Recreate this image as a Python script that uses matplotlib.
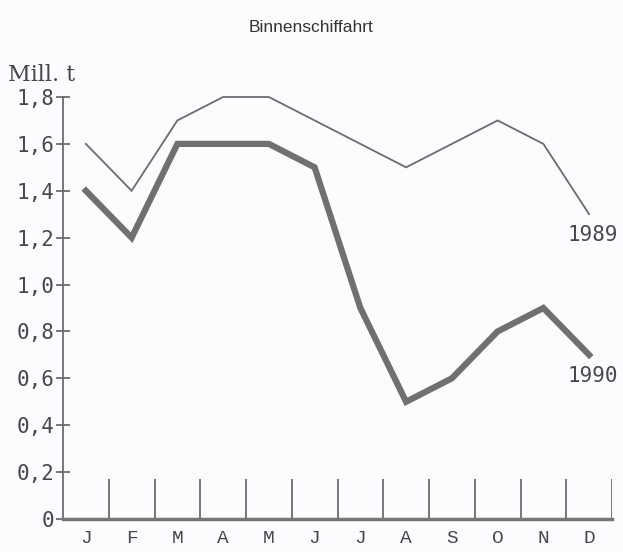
import matplotlib
matplotlib.use("Agg")
import matplotlib.pyplot as plt

months = ["J", "F", "M", "A", "M", "J", "J", "A", "S", "O", "N", "D"]
y1989 = [1.6, 1.4, 1.7, 1.8, 1.8, 1.7, 1.6, 1.5, 1.6, 1.7, 1.6, 1.3]
y1990 = [1.4, 1.2, 1.6, 1.6, 1.6, 1.5, 0.9, 0.5, 0.6, 0.8, 0.9, 0.7]
yticks = [0, 0.2, 0.4, 0.6, 0.8, 1.0, 1.2, 1.4, 1.6, 1.8]
ytick_labels = ["0", "0,2", "0,4", "0,6", "0,8", "1,0", "1,2", "1,4", "1,6", "1,8"]
series_labels = ["1989", "1990"]

W, H = 623, 552
bg = "#fbfcfd"
fig = plt.figure(figsize=(W / 100, H / 100), dpi=100)
fig.patch.set_facecolor(bg)
left, right = 63 / W, 612 / W
bottom, top = (H - 519) / H, (H - 97) / H
ax = fig.add_axes([left, bottom, right - left, top - bottom])
ax.set_facecolor(bg)

col = "#6f6a70"
txt = "#4a4550"
x = list(range(len(months)))
ax.plot(x, y1989, color=col, lw=1.3, solid_joinstyle="miter", clip_on=False)
ax.plot(x, y1990, color="#707070", lw=4.5, solid_joinstyle="miter", clip_on=False)

# vertical separators
ax.vlines([i + 0.5 for i in range(len(months))], 0, 0.17, color=col, lw=1.3)

ax.set_xlim(-0.5, 11.5)
ax.set_ylim(0, 1.8)
for s in ["top", "right"]:
    ax.spines[s].set_visible(False)
ax.spines["left"].set_color(col)
ax.spines["left"].set_linewidth(1.3)
ax.spines["bottom"].set_color("#777777")
ax.spines["bottom"].set_linewidth(2.5)

mono = "DejaVu Sans Mono"
ax.set_yticks(yticks)
ax.set_yticklabels(ytick_labels, fontfamily=mono, fontsize=15, color=txt)
ax.tick_params(axis="y", direction="inout", length=10, width=1.3, color=col, pad=1)
ax.set_xticks(x)
ax.set_xticklabels(months, fontfamily="Liberation Mono", fontsize=14, color=txt)
ax.tick_params(axis="x", length=0, pad=8)

ax.text(10.52, 1.21, series_labels[0], fontfamily=mono, fontsize=15, color=txt,
        ha="left", va="center", clip_on=False)
ax.text(10.52, 0.61, series_labels[1], fontfamily=mono, fontsize=15, color=txt,
        ha="left", va="center", clip_on=False)

fig.text(8 / W, 1 - 75 / H, "Mill. t", fontfamily="DejaVu Serif", fontsize=16,
         color=txt, ha="left", va="center")
fig.text(311 / W, 1 - 27 / H, "Binnenschiffahrt", fontfamily="Liberation Sans", fontsize=12.5,
         color="#333333", ha="center", va="center")

fig.savefig("out.png", dpi=100, facecolor=fig.get_facecolor())
